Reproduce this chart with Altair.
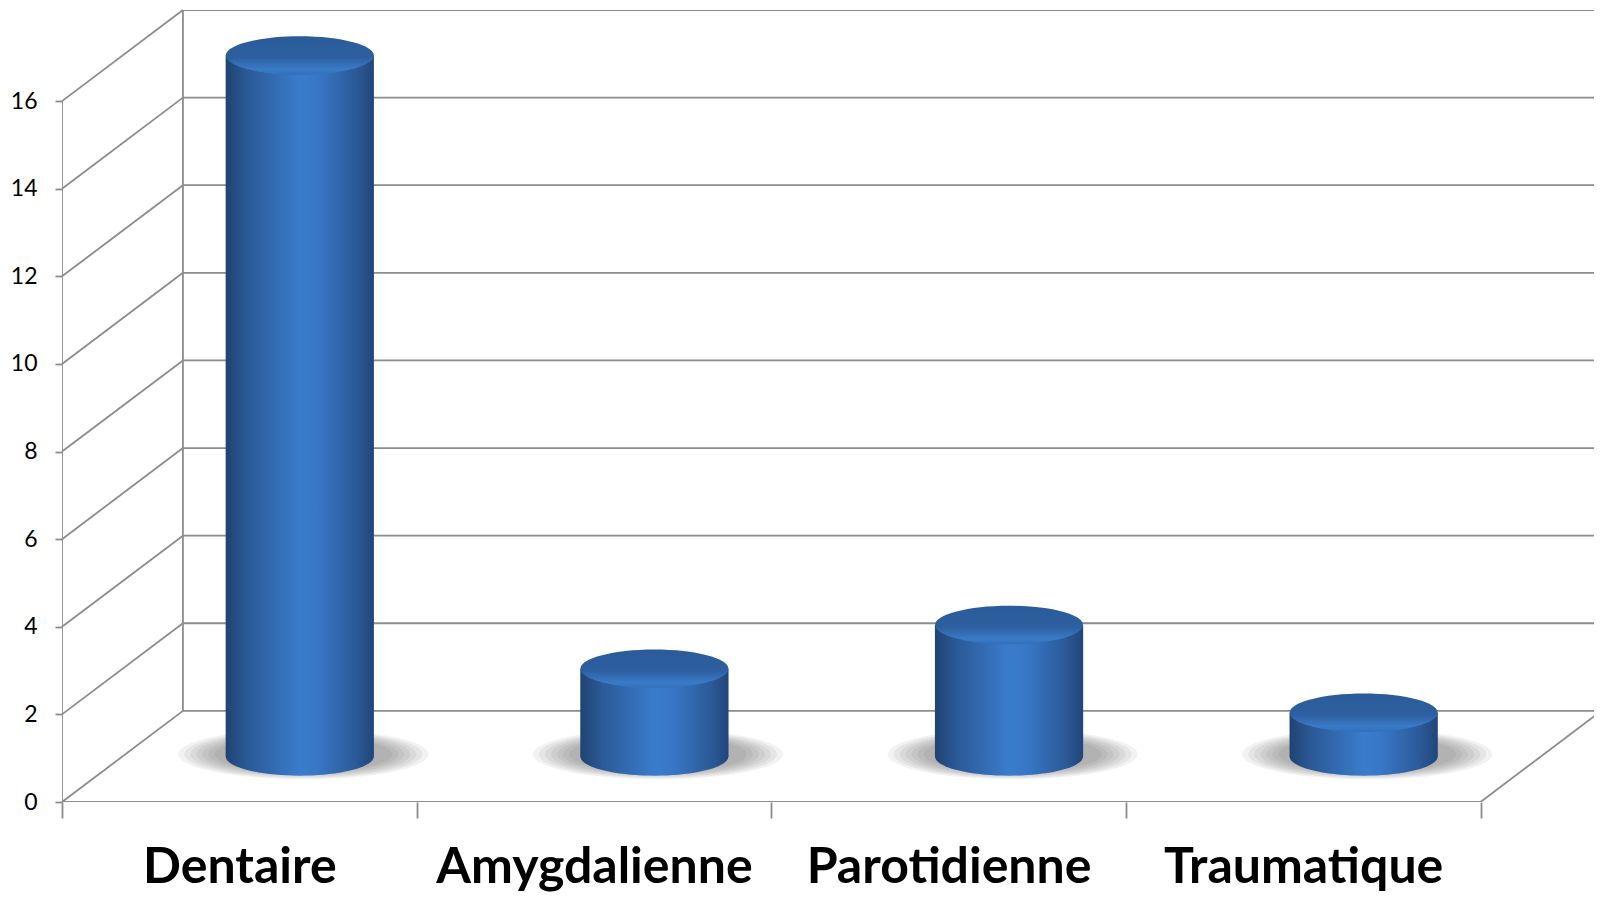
import altair as alt
import pandas as pd

# ---- data ----
categories = ["Dentaire", "Amygdalienne", "Parotidienne", "Traumatique"]
values = [16, 2, 3, 1]
y_ticks = [0, 2, 4, 6, 8, 10, 12, 14, 16]

# ---- pseudo-3D geometry (in data units) ----
DX = 0.341          # depth shift along x (category bands)
DY = 2.08           # depth shift along y (value units)
N = len(categories)
X_MAX = 4.32
Y_MAX = max(y_ticks) + DY
HALF_W = 0.209      # half width of a cylinder (band units)
CYL_PX = 148        # cylinder diameter in px for the ellipse symbols

GRID = "#8c8c8c"
ELL = "M -1 0 A 1 0.26 0 1 1 1 0 A 1 0.26 0 1 1 -1 0 Z"
SHADOW = "M -1 0 A 1 0.2 0 1 1 1 0 A 1 0.2 0 1 1 -1 0 Z"

bars = pd.DataFrame({"cat": categories, "value": values, "idx": list(range(N))})
levels = pd.DataFrame({"v": y_ticks})
lo, hi = min(y_ticks), max(y_ticks)
frame = pd.DataFrame([
    {"x": 0, "x2": 0, "y": lo, "y2": hi},                 # front vertical
    {"x": DX, "x2": DX, "y": lo + DY, "y2": hi + DY},     # back vertical
    {"x": 0, "x2": N, "y": lo, "y2": lo},                 # front floor edge
    {"x": N, "x2": N + DX, "y": lo, "y2": lo + DY},       # right floor edge
])

xs = alt.Scale(domain=[0, X_MAX], nice=False, zero=False)
ys = alt.Scale(domain=[0, Y_MAX], nice=False, zero=False)

label_list = "[" + ",".join("'" + c + "'" for c in categories) + "]"
x_axis = alt.Axis(
    values=[i / 2 for i in range(2 * N + 1)],
    tickSize=16, tickColor=GRID, tickWidth=1.8,
    tickOpacity={"condition": {"test": "datum.value % 1 === 0", "value": 1}, "value": 0},
    labelExpr=f"datum.value % 1 === 0.5 ? {label_list}[floor(datum.value)] : ''",
    labelFont="Lato", labelFontSize=50, labelFontWeight="bold", labelColor="black",
    labelBaseline="alphabetic", labelPadding=64, labelOverlap=False, labelFlush=False,
    labelLimit=0,
    domain=False, grid=False, title=None, minExtent=86, maxExtent=86,
)
y_axis = alt.Axis(
    values=y_ticks, tickSize=7, tickColor=GRID, tickWidth=1.8,
    labelFont="Lato", labelFontSize=23, labelColor="black", labelPadding=18,
    domain=False, grid=False, title=None, minExtent=54, maxExtent=54,
)


def X(f):
    return alt.X(f, scale=xs, axis=x_axis)


def Y(f):
    return alt.Y(f, scale=ys, axis=y_axis)


# frame edges
frame_layer = alt.Chart(frame).mark_rule(color=GRID, strokeWidth=1.8, clip=True).encode(
    x=X("x:Q"), x2="x2:Q", y=Y("y:Q"), y2="y2:Q",
)

# back wall horizontal grid lines
back = alt.Chart(levels).transform_calculate(
    xa=f"{DX}", xb=f"{N + DX}", ya=f"datum.v + {DY}"
).mark_rule(color=GRID, strokeWidth=1.8, clip=True).encode(
    x=X("xa:Q"), x2="xb:Q", y=Y("ya:Q"),
)

# left wall diagonals
side = alt.Chart(levels).transform_calculate(
    xa="0", xb=f"{DX}", ya="datum.v", yb=f"datum.v + {DY}"
).mark_rule(color=GRID, strokeWidth=1.8).encode(
    x=X("xa:Q"), x2="xb:Q", y=Y("ya:Q"), y2="yb:Q",
)

cyl = alt.Chart(bars).transform_calculate(
    cx=f"datum.idx + 0.5 + {DX / 2}",
    scx=f"datum.idx + 0.5 + {DX / 2} + 0.01",
    x0=f"datum.idx + 0.5 + {DX / 2} - {HALF_W}",
    x1=f"datum.idx + 0.5 + {DX / 2} + {HALF_W}",
    base=f"{DY / 2}",
    top=f"datum.value + {DY / 2}",
    sh=f"{DY / 2} + 0.05",
)

side_grad = alt.Gradient(
    gradient="linear", x1=0, x2=1, y1=0, y2=0,
    stops=[
        alt.GradientStop(color="#1f4372", offset=0),
        alt.GradientStop(color="#2b5a98", offset=0.15),
        alt.GradientStop(color="#3a7ccc", offset=0.5),
        alt.GradientStop(color="#3877c6", offset=0.62),
        alt.GradientStop(color="#2b5a98", offset=0.88),
        alt.GradientStop(color="#21457a", offset=1),
    ],
)
top_grad = alt.Gradient(
    gradient="linear", x1=0, x2=0, y1=0, y2=1,
    stops=[
        alt.GradientStop(color="#2b5b99", offset=0),
        alt.GradientStop(color="#2d5fa0", offset=0.55),
        alt.GradientStop(color="#3a7bc8", offset=0.86),
        alt.GradientStop(color="#3170ba", offset=1),
    ],
)

shadows = []
for w in [250, 238, 226, 214, 202, 190, 178]:
    shadows.append(
        cyl.mark_point(shape=SHADOW, filled=True, color="#404040", opacity=0.07,
                       size=w * w, strokeWidth=0).encode(
            x=X("scx:Q"), y=Y("sh:Q"),
        )
    )

bottom_ell = cyl.mark_point(shape=ELL, filled=True, fill=side_grad, opacity=1,
                            size=CYL_PX * CYL_PX, strokeWidth=0).encode(
    x=X("cx:Q"), y=Y("base:Q"),
)
body = cyl.mark_rect(fill=side_grad).encode(
    x=X("x0:Q"), x2="x1:Q", y=Y("base:Q"), y2="top:Q",
)
top_ell = cyl.mark_point(shape=ELL, filled=True, fill=top_grad, opacity=1,
                         size=CYL_PX * CYL_PX, strokeWidth=0).encode(
    x=X("cx:Q"), y=Y("top:Q"),
)

chart = alt.layer(
    frame_layer, back, side, *shadows, bottom_ell, body, top_ell
).properties(
    width=1532, height=792,
    padding={"left": 0, "top": 1, "right": 0, "bottom": 0},
    background="white",
).configure_view(stroke=None)

chart.save("out.html", embed_options={"renderer": "svg", "actions": False})
